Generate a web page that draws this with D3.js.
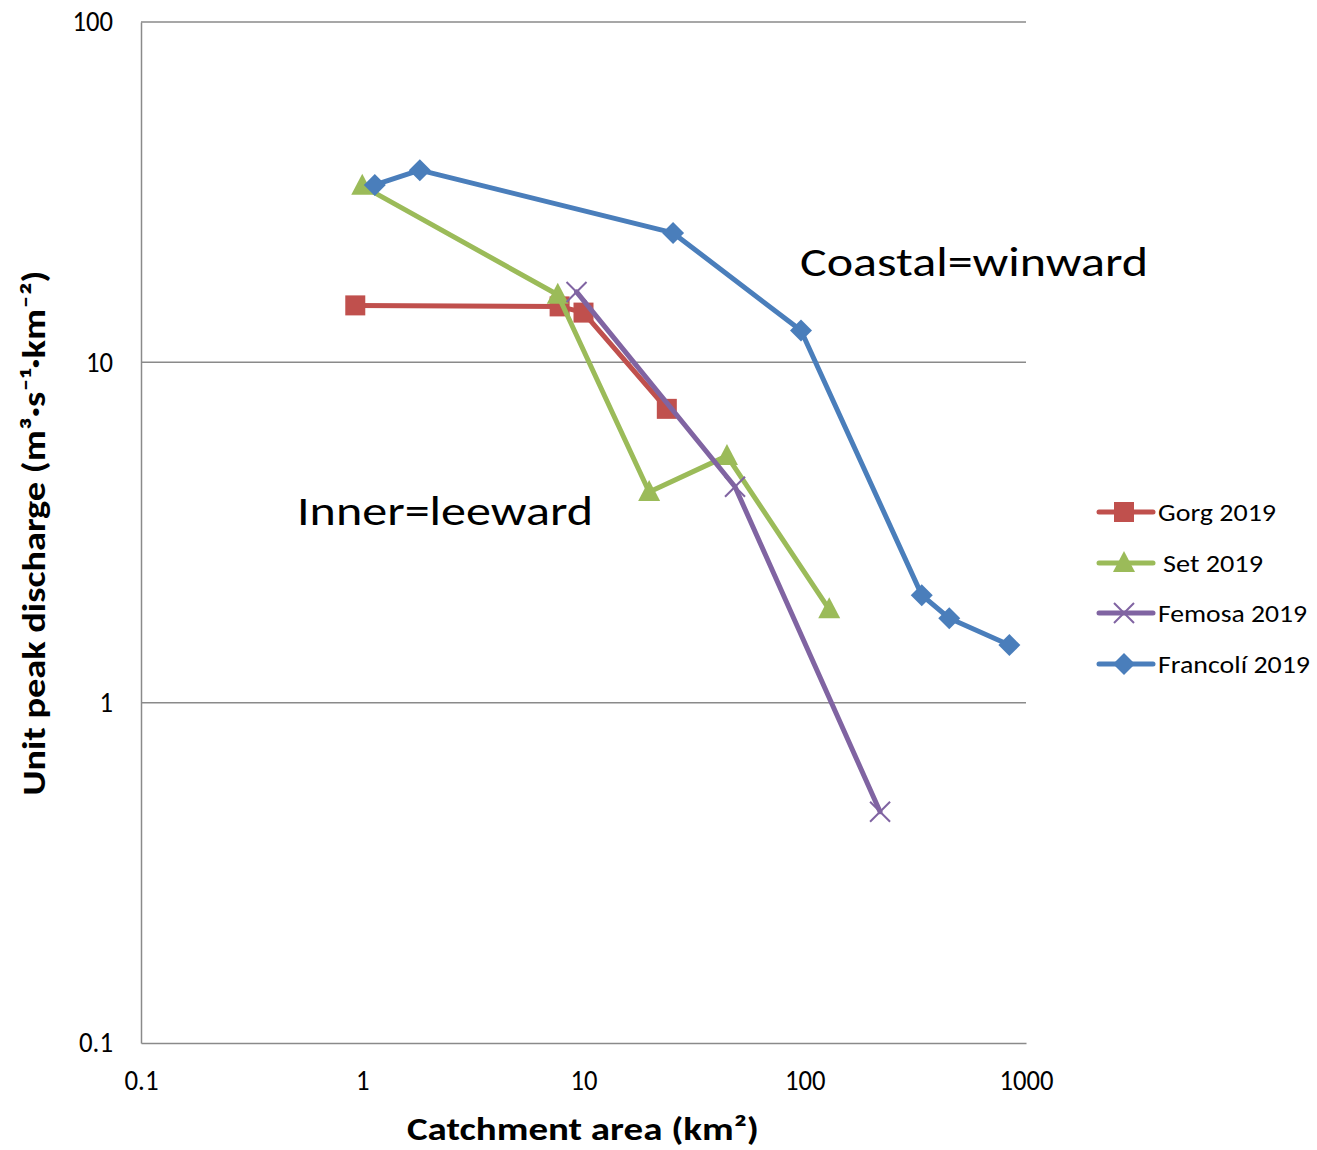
<!DOCTYPE html>
<html><head><meta charset="utf-8">
<script src="https://cdn.jsdelivr.net/npm/d3@7"></script>
<style>body{margin:0;background:#fff}</style>
</head><body>
<svg id="c" width="1317" height="1150"></svg>
<script>
// ---- data ----
const seriesNames = ["Gorg 2019", "Set 2019", "Femosa 2019", "Francolí 2019"];
const gorgArea = [0.93, 7.8, 10.0, 23.8];
const gorgQ    = [14.7, 14.6, 14.0, 7.3];
const setArea  = [1.0, 7.65, 19.8, 44.5, 129];
const setQ     = [33.0, 15.8, 4.16, 5.31, 1.88];
const femArea  = [9.3, 48.4, 219];
const femQ     = [16.1, 4.31, 0.478];
const fraArea  = [1.14, 1.82, 25.4, 96.2, 338, 450, 841];
const fraQ     = [33.2, 36.7, 24.0, 12.4, 2.07, 1.77, 1.477];
const xTicks = [0.1, 1, 10, 100, 1000];
const yTicks = [0.1, 1, 10, 100];
const xTickLabels = ["0.1", "1", "10", "100", "1000"];
const yTickLabels = ["0.1", "1", "10", "100"];
const annotations = ["Coastal=winward", "Inner=leeward"];

const colors = ["#C0504D", "#9BBB59", "#8064A2", "#4A7EBB"];
const markers = ["square", "triangle", "x", "diamond"];
const series = [
  {name: seriesNames[0], xs: gorgArea, ys: gorgQ},
  {name: seriesNames[1], xs: setArea, ys: setQ},
  {name: seriesNames[2], xs: femArea, ys: femQ},
  {name: seriesNames[3], xs: fraArea, ys: fraQ}
];

const font = "Carlito, Calibri, Lato, 'Open Sans', sans-serif";
const svg = d3.select("#c");
const x = d3.scaleLog().domain([0.1, 1000]).range([141, 1026]);
const y = d3.scaleLog().domain([0.1, 100]).range([1043, 22]);

// width of a tick label in the narrow Calibri-like metrics of the reference
const labelW = s => s.split("").reduce((a, c) => a + (c === "." ? 7 : 13.5), 0);

// gridlines
svg.append("g").selectAll("line").data(yTicks.slice(1)).join("line")
  .attr("x1", x(0.1)).attr("x2", x(1000))
  .attr("y1", d => y(d)).attr("y2", d => y(d))
  .attr("stroke", "#8a8a8a").attr("stroke-width", 1.5);

// axes
const yAxis = d3.axisLeft(y).tickValues(yTicks).tickSize(0).tickSizeOuter(0).tickPadding(28)
  .tickFormat((d, i) => yTickLabels[i]);
const gy = svg.append("g").attr("transform", `translate(${x(0.1)},0)`).call(yAxis);
gy.select(".domain").attr("stroke", "#8a8a8a").attr("stroke-width", 1.5);
gy.selectAll("text").attr("font-family", font).attr("font-size", 28).attr("fill", "#000")
  .attr("textLength", function() { return labelW(this.textContent); })
  .attr("lengthAdjust", "spacingAndGlyphs");

const xAxis = d3.axisBottom(x).tickValues(xTicks).tickSize(0).tickSizeOuter(0).tickPadding(27)
  .tickFormat((d, i) => xTickLabels[i]);
const gx = svg.append("g").attr("transform", `translate(0,${y(0.1)})`).call(xAxis);
gx.select(".domain").attr("stroke", "#8a8a8a").attr("stroke-width", 1.5);
gx.selectAll("text").attr("font-family", font).attr("font-size", 28).attr("fill", "#000")
  .attr("textLength", function() { return labelW(this.textContent); })
  .attr("lengthAdjust", "spacingAndGlyphs");

// axis titles
svg.append("text").attr("x", 583).attr("y", 1140).attr("text-anchor", "middle")
  .attr("font-family", font).attr("font-weight", "bold").attr("font-size", 32)
  .attr("textLength", 352).attr("lengthAdjust", "spacingAndGlyphs")
  .text("Catchment area (km²)");
svg.append("text").attr("transform", "translate(45,533) rotate(-90)").attr("text-anchor", "middle")
  .attr("font-family", font).attr("font-weight", "bold").attr("font-size", 32)
  .attr("textLength", 525).attr("lengthAdjust", "spacingAndGlyphs")
  .text("Unit peak discharge (m³·s⁻¹·km⁻²)");

// marker drawing
function drawMarker(g, type, color, cx, cy) {
  if (type === "square") {
    g.append("rect").attr("x", cx - 10).attr("y", cy - 10).attr("width", 20).attr("height", 20).attr("fill", color);
  } else if (type === "triangle") {
    g.append("path").attr("d", `M${cx},${cy-12}L${cx+11},${cy+9}L${cx-11},${cy+9}Z`).attr("fill", color);
  } else if (type === "diamond") {
    g.append("path").attr("d", `M${cx},${cy-11}L${cx+11},${cy}L${cx},${cy+11}L${cx-11},${cy}Z`).attr("fill", color);
  } else if (type === "x") {
    g.append("path").attr("d", `M${cx-10},${cy-10}L${cx+10},${cy+10}M${cx-10},${cy+10}L${cx+10},${cy-10}`)
      .attr("stroke", color).attr("stroke-width", 2).attr("fill", "none");
  }
}

const line = d3.line().x(d => x(d[0])).y(d => y(d[1]));
series.forEach((s, i) => {
  const pts = s.xs.map((v, j) => [v, s.ys[j]]);
  const g = svg.append("g");
  g.append("path").attr("d", line(pts)).attr("fill", "none").attr("stroke", colors[i])
    .attr("stroke-width", 5).attr("stroke-linejoin", "round").attr("stroke-linecap", "round");
  pts.forEach(p => drawMarker(g, markers[i], colors[i], x(p[0]), y(p[1])));
});

// annotations
svg.append("text").attr("x", 800).attr("y", 276).attr("font-family", font).attr("font-size", 42)
  .attr("textLength", 348).attr("lengthAdjust", "spacingAndGlyphs").text(annotations[0]);
svg.append("text").attr("x", 297).attr("y", 525).attr("font-family", font).attr("font-size", 42)
  .attr("textLength", 296).attr("lengthAdjust", "spacingAndGlyphs").text(annotations[1]);

// legend
const legY = [512, 563, 613, 664];
const legTextW = [118, 100, 149, 152];
series.forEach((s, i) => {
  const g = svg.append("g");
  g.append("line").attr("x1", 1099).attr("x2", 1153).attr("y1", legY[i]).attr("y2", legY[i])
    .attr("stroke", colors[i]).attr("stroke-width", 5).attr("stroke-linecap", "round");
  drawMarker(g, markers[i], colors[i], 1124, legY[i]);
  g.append("text").attr("x", i === 1 ? 1163 : 1158).attr("y", legY[i] + 9)
    .attr("font-family", font).attr("font-size", 25)
    .attr("textLength", legTextW[i]).attr("lengthAdjust", "spacingAndGlyphs").text(s.name);
});
</script>
</body></html>
